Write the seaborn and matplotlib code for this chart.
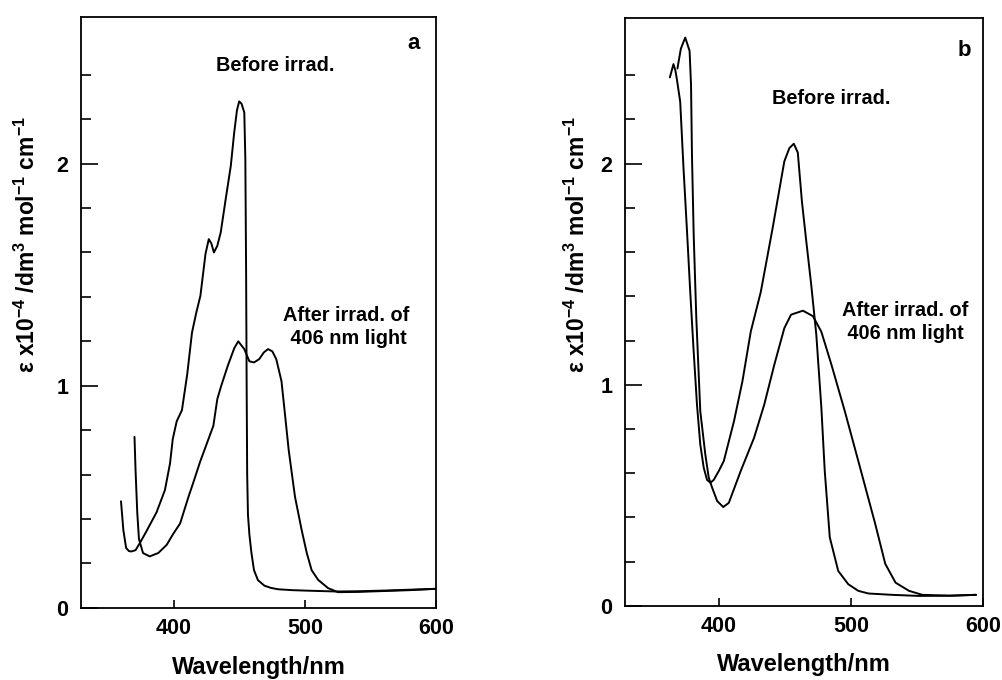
# Absorption spectra before / after irradiation (panels a and b).

import matplotlib
matplotlib.use('Agg')
import matplotlib.pyplot as plt
import numpy as np
import pandas as pd
import seaborn as sns
from matplotlib.ticker import FixedLocator

sns.set_theme(style="ticks")
plt.rcParams['font.family'] = ['Liberation Sans', 'DejaVu Sans']
plt.rcParams['font.weight'] = 'bold'
plt.rcParams['text.color'] = 'black'
plt.rcParams['axes.labelcolor'] = 'black'
plt.rcParams['xtick.color'] = 'black'
plt.rcParams['ytick.color'] = 'black'
plt.rcParams['mathtext.fontset'] = 'custom'
plt.rcParams['mathtext.rm'] = 'Liberation Sans:bold'
plt.rcParams['mathtext.it'] = 'Liberation Sans:bold'
plt.rcParams['mathtext.bf'] = 'Liberation Sans:bold'

# ---- data (wavelength / nm, eps x 1e-4) ----
wl_a_before = [359.5, 361.3, 363.4, 365.5, 367.3, 370.6, 373.7, 378.9, 386.6, 393.0,
               396.9, 399.0, 402.0, 406.0, 410.0, 413.7, 417.0, 420.1, 424.0, 426.5,
               428.5, 430.4, 433.0, 435.6, 439.4, 443.3, 445.9, 448.0, 449.7, 451.5,
               453.6, 454.4, 455.0, 455.4, 455.8, 456.4, 457.5, 459.0, 461.0, 464.0,
               469.0, 474.0, 479.4, 490.0, 500.0, 523.0, 540.0, 560.0, 580.0, 600.0]
eps_a_before = [0.48, 0.35, 0.27, 0.256, 0.254, 0.26, 0.29, 0.345, 0.43, 0.53,
                0.65, 0.76, 0.84, 0.89, 1.05, 1.24, 1.33, 1.405, 1.594, 1.66,
                1.64, 1.60, 1.63, 1.69, 1.84, 1.99, 2.14, 2.24, 2.28, 2.27,
                2.23, 2.02, 1.5, 1.0, 0.6, 0.42, 0.33, 0.25, 0.17, 0.125,
                0.10, 0.09, 0.084, 0.08, 0.078, 0.074, 0.075, 0.078, 0.082, 0.086]

wl_a_after = [369.8, 370.6, 371.9, 373.2, 376.3, 381.4, 387.9, 394.4, 399.0, 404.6,
              411.0, 415.0, 420.0, 425.0, 430.0, 433.0, 436.0, 441.0, 446.0, 449.0,
              453.6, 457.5, 461.0, 465.0, 468.5, 471.7, 475.0, 478.0, 482.0, 484.5,
              487.5, 492.3, 497.4, 501.3, 505.0, 510.0, 517.6, 525.0, 540.0, 560.0,
              580.0, 600.0]
eps_a_after = [0.77, 0.62, 0.43, 0.31, 0.247, 0.232, 0.247, 0.284, 0.33, 0.38,
               0.50, 0.57, 0.66, 0.74, 0.82, 0.94, 1.0, 1.09, 1.17, 1.20,
               1.165, 1.11, 1.105, 1.12, 1.15, 1.165, 1.155, 1.12, 1.02, 0.88,
               0.71, 0.50, 0.35, 0.247, 0.17, 0.126, 0.089, 0.071, 0.072, 0.076,
               0.080, 0.086]

wl_b_before = [363.0, 365.7, 367.2, 368.2, 370.8, 373.3, 375.9, 378.4, 380.9, 383.5,
               386.0, 388.6, 391.1, 393.7, 396.2, 400.0, 403.8, 411.5, 417.9, 424.2,
               431.8, 440.8, 449.6, 453.4, 456.8, 459.8, 462.9, 466.2, 470.0, 473.8,
               477.6, 480.2, 484.0, 490.4, 498.0, 505.6, 513.3, 531.0, 551.5, 575.0,
               594.7]
eps_b_before = [2.39, 2.45, 2.42, 2.385, 2.28, 1.98, 1.70, 1.42, 1.16, 0.91,
                0.73, 0.625, 0.57, 0.557, 0.57, 0.61, 0.655, 0.835, 1.016, 1.24,
                1.42, 1.71, 2.01, 2.07, 2.09, 2.05, 1.83, 1.65, 1.45, 1.227,
                0.90, 0.61, 0.31, 0.158, 0.098, 0.068, 0.056, 0.05, 0.045, 0.046,
                0.05]

wl_b_after = [368.7, 371.3, 374.6, 377.9, 379.0, 379.7, 381.0, 383.0, 386.0, 389.8,
              392.4, 395.0, 398.8, 403.4, 407.6, 416.6, 426.7, 434.4, 442.0, 449.6,
              454.7, 463.7, 471.3, 477.6, 485.3, 495.4, 505.6, 518.3, 526.0, 533.8,
              544.0, 554.0, 575.0, 594.7]
eps_b_after = [2.43, 2.52, 2.57, 2.51, 2.355, 2.04, 1.68, 1.30, 0.88, 0.685,
               0.58, 0.534, 0.474, 0.447, 0.466, 0.61, 0.76, 0.91, 1.09, 1.256,
               1.317, 1.335, 1.31, 1.24, 1.09, 0.88, 0.655, 0.373, 0.19, 0.105,
               0.068, 0.05, 0.046, 0.05]

x_ticks = [400, 500, 600]
y_ticks = [0, 1, 2]
y_minor = [0.2, 0.4, 0.6, 0.8, 1.2, 1.4, 1.6, 1.8, 2.2, 2.4]

ylabel = r"$\epsilon$ x10$^{-4}$ /dm$^{3}$ mol$^{-1}$ cm$^{-1}$"


def make_df(wb, eb, wa, ea):
    d1 = pd.DataFrame({"wl": wb, "eps": eb, "state": "before"})
    d2 = pd.DataFrame({"wl": wa, "eps": ea, "state": "after"})
    return pd.concat([d1, d2], ignore_index=True)


fig = plt.figure(figsize=(10.03, 6.8), dpi=100)
ax_a = fig.add_axes([0.0808, 0.106, 0.354, 0.869])
ax_b = fig.add_axes([0.6231, 0.109, 0.357, 0.865])

panels = [
    (ax_a, make_df(wl_a_before, eps_a_before, wl_a_after, eps_a_after), "a",
     (583, 2.54), (477, 2.44), (531, 1.266), "center", -0.15),
    (ax_b, make_df(wl_b_before, eps_b_before, wl_b_after, eps_b_after), "b",
     (586, 2.51), (485, 2.295), (493, 1.283), "left", -0.132),
]

for ax, df, tag, tag_xy, bef_xy, aft_xy, aft_ha, ylab_x in panels:
    sns.lineplot(data=df, x="wl", y="eps", units="state", estimator=None,
                 sort=False, color="black", lw=1.4, ax=ax)
    ax.set_xlim(329, 600)
    ax.set_ylim(0, 2.66)
    ax.set_xticks(x_ticks)
    ax.set_yticks(y_ticks)
    ax.yaxis.set_minor_locator(FixedLocator(y_minor))
    ax.tick_params(axis="both", which="both", direction="in", colors="black",
                   labelsize=15.5, width=1.2)
    ax.tick_params(axis="y", which="major", length=12, pad=9)
    ax.tick_params(axis="y", which="minor", length=7)
    ax.tick_params(axis="x", which="major", length=6, pad=7)
    for s in ax.spines.values():
        s.set_visible(True)
        s.set_linewidth(1.3)
        s.set_color("black")

    ax.set_xlabel("Wavelength/nm", fontsize=17, fontweight="bold", va="center")
    ax.xaxis.set_label_coords(0.5, -0.1)
    ax.set_ylabel(ylabel, fontsize=16.5, fontweight="bold", va="center")
    ax.yaxis.set_label_coords(ylab_x, 0.615)

    ax.text(tag_xy[0], tag_xy[1], tag, fontsize=16, fontweight="bold",
            ha="center", va="center")
    ax.text(bef_xy[0], bef_xy[1], "Before irrad.", fontsize=14.3,
            fontweight="bold", ha="center", va="center")
    ax.text(aft_xy[0], aft_xy[1], "After irrad. of\n 406 nm light", fontsize=14.3,
            fontweight="bold", ha=aft_ha, va="center", multialignment=aft_ha,
            linespacing=1.25)

fig.savefig("out.png", dpi=100, facecolor="white")
